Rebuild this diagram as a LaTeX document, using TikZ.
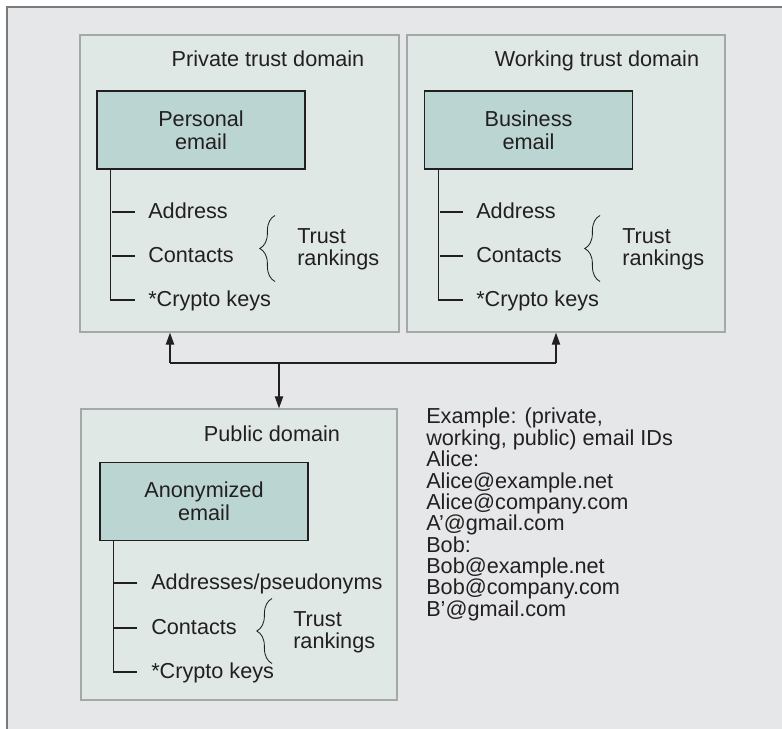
\documentclass[tikz,border=0pt]{standalone}
\usepackage{fontspec}
\setmainfont{Liberation Sans}
\usetikzlibrary{arrows.meta,calc,decorations.pathreplacing}

\definecolor{panel}{HTML}{E6E7E8}
\definecolor{frameline}{HTML}{7A7B7C}
\definecolor{domainfill}{HTML}{DFE8E5}
\definecolor{domainline}{HTML}{A3A8A8}
\definecolor{mailfill}{HTML}{BBD6D2}
\definecolor{ink}{HTML}{231F20}

\tikzset{
  txt/.style={font=\fontsize{15.4pt}{16pt}\selectfont,text=ink},
  trustbox/.style={draw=domainline,fill=domainfill,line width=1pt,inner sep=0pt},
  mailbox/.style={txt,draw=ink,fill=mailfill,line width=0.9pt,align=center,
    minimum width=5.2cm,minimum height=1.95cm,font=\fontsize{15.4pt}{16.4pt}\selectfont},
  item/.style={txt,anchor=base west,inner sep=0pt},
  rank/.style={txt,anchor=west,inner sep=0pt,align=left},
  trunk/.style={draw=ink,line width=0.9pt},
  flow/.style={draw=ink,line width=0.9pt,-{Triangle[length=0.3cm,width=0.21cm]}},
  curly/.style={draw=ink,line width=0.6pt,decorate,decoration={brace,amplitude=0.38cm}}
}

\begin{document}
\begin{tikzpicture}[x=0.025cm,y=-0.025cm]
  \useasboundingbox (0,0) rectangle (782,729);
  \fill[white] (0,0) rectangle (782,729);
  \fill[panel] (7,7) rectangle (782,729);
  \draw[frameline,line width=0.8pt] (7,729) -- (7,7) -- (782,7);

  % the three domains
  \node[trustbox,minimum width=7.975cm,minimum height=7.425cm] (private) at (239.5,183.5) {};
  \node[trustbox,minimum width=7.95cm,minimum height=7.425cm] (working) at (566,183.5) {};
  \node[trustbox,minimum width=7.9cm,minimum height=7.275cm] (public) at (239,554.5) {};

  \node[txt,anchor=base] (ptitle) at (268,67) {Private trust domain};
  \node[txt,anchor=base] (wtitle) at (597,67) {Working trust domain};
  \node[txt,anchor=base] (ctitle) at (272,441) {Public domain};

  \node[mailbox] (pmail) at (201,130) {Personal\\email};
  \node[mailbox] (wmail) at (528.5,130) {Business\\email};
  \node[mailbox] (cmail) at (204,501.5) {Anonymized\\email};

  % private
  \node[item] (paddr) at (148,218.5) {Address};
  \node[item] (pcont) at (148,262.5) {Contacts};
  \node[item] (pkeys) at (148,306.5) {*Crypto keys};
  \node[rank] (prank) at (297,249.5) {Trust\\rankings};
  \draw[trunk] ($(pmail.south west)+(14,0)$) |- ($(pkeys.base west)+(-13,-6.5)$);
  \draw[trunk] ($(paddr.base west)+(-13,-6.5)$) -- +(-23,0);
  \draw[trunk] ($(pcont.base west)+(-13,-6.5)$) -- +(-23,0);
  \draw[curly] ($(prank.west)+(-22,32)$) -- ($(prank.west)+(-22,-34)$);

  % working
  \node[item] (waddr) at (476,218.5) {Address};
  \node[item] (wcont) at (476,262.5) {Contacts};
  \node[item] (wkeys) at (476,306.5) {*Crypto keys};
  \node[rank] (wrank) at (622,249.5) {Trust\\rankings};
  \draw[trunk] ($(wmail.south west)+(15,0)$) |- ($(wkeys.base west)+(-13,-6.5)$);
  \draw[trunk] ($(waddr.base west)+(-13,-6.5)$) -- +(-23,0);
  \draw[trunk] ($(wcont.base west)+(-13,-6.5)$) -- +(-23,0);
  \draw[curly] ($(wrank.west)+(-22,32)$) -- ($(wrank.west)+(-22,-34)$);

  % public
  \node[item] (caddr) at (151,589.5) {Addresses/pseudonyms};
  \node[item] (ccont) at (151,634.5) {Contacts};
  \node[item] (ckeys) at (151,678.5) {*Crypto keys};
  \node[rank] (crank) at (293,632.5) {Trust\\rankings};
  \draw[trunk] ($(cmail.south west)+(14.5,0)$) |- ($(ckeys.base west)+(-14,-6.5)$);
  \draw[trunk] ($(caddr.base west)+(-14,-6.5)$) -- +(-23,0);
  \draw[trunk] ($(ccont.base west)+(-14,-6.5)$) -- +(-23,0);
  \draw[curly] ($(crank.west)+(-21,31)$) -- ($(crank.west)+(-21,-34)$);

  % links between the domains
  \coordinate (jl) at (170,363);
  \coordinate (jr) at (556,363);
  \coordinate (jm) at (279,363);
  \draw[trunk] (jl) -- (jr);
  \draw[flow] (jl) -- (jl |- private.south);
  \draw[flow] (jr) -- (jr |- working.south);
  \draw[flow] (jm) -- (jm |- public.north);

  \node[txt,anchor=north west,inner sep=0pt,align=left,
    font=\fontsize{15.4pt}{15.2pt}\selectfont] (ids) at (426,408) {Example: (private,\\
    working, public) email IDs\\Alice:\\Alice@example.net\\Alice@company.com\\
    A’@gmail.com\\Bob:\\Bob@example.net\\Bob@company.com\\B’@gmail.com};
\end{tikzpicture}
\end{document}
